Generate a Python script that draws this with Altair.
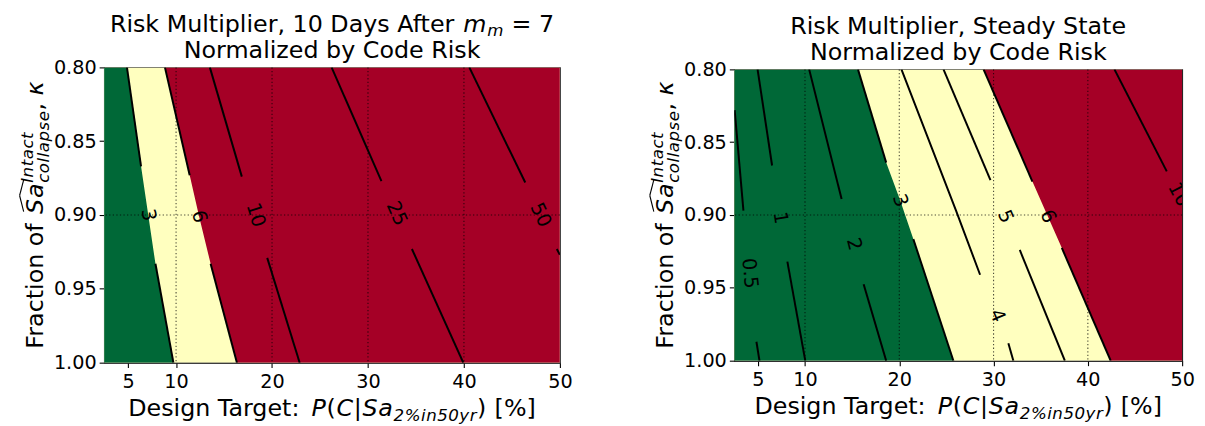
import math
import altair as alt
import pandas as pd

FONT = "DejaVu Sans"

# ---------------- values ----------------
X_DOMAIN = [2.5, 50.0]
Y_DOMAIN = [0.80, 1.00]
X_TICKS = [5, 10, 20, 30, 40, 50]
Y_TICKS = [0.80, 0.85, 0.90, 0.95, 1.00]
GRID_X = [10, 20, 30, 40]
GRID_Y = [0.90]

# Left panel: 10 days after m_m = 7  (upper segment, label point, lower segment)
L_LEVELS = ["3", "6", "10", "25", "50"]
L_UP_X = [[4.88, 6.35], [8.84, 11.42], [13.52, 16.85], [26.21, 31.40], [40.56, 46.39]]
L_UP_Y = [[0.80, 0.867], [0.80, 0.873], [0.80, 0.874], [0.80, 0.877], [0.80, 0.878]]
L_LAB_X = [7.10, 12.40, 18.30, 33.00, 48.00]
L_LAB_Y = [0.900, 0.901, 0.900, 0.899, 0.900]
L_LO_X = [[7.85, 9.72], [13.60, 16.34], [19.50, 22.88], [34.58, 39.93], [49.68, 50.00]]
L_LO_Y = [[0.933, 1.00], [0.933, 1.00], [0.929, 1.00], [0.923, 1.00], [0.923, 0.927]]

# Right panel: steady state
R_LEVELS = ["0.5", "1", "2", "3", "4", "5", "6", "10"]
R_UP_X = [[2.54, 3.47], [4.97, 6.51], [10.44, 13.88], [15.62, 18.61],
          [20.23, 26.02, 28.57], [24.69, 29.67], [28.94, 34.12], [42.82, 48.37]]
R_UP_Y = [[0.828, 0.897], [0.80, 0.866], [0.80, 0.889], [0.80, 0.864],
          [0.80, 0.897, 0.941], [0.80, 0.876], [0.80, 0.877], [0.80, 0.870]]
R_LAB_X = [4.13, 7.39, 15.20, 20.10, 30.40, 31.25, 35.76, 49.64]
R_LAB_Y = [0.940, 0.902, 0.920, 0.890, 0.969, 0.901, 0.901, 0.886]
R_LO_X = [[4.85, 5.17], [8.13, 10.03], [16.22, 18.61], [21.49, 25.74],
          [31.57, 32.10], [32.78, 37.56], [37.24, 42.42], []]
R_LO_Y = [[0.987, 1.00], [0.932, 1.00], [0.9475, 1.00], [0.9165, 1.00],
          [0.988, 1.00], [0.924, 1.00], [0.9226, 1.00], []]

LOW_LEVEL = "3"    # green / yellow boundary
HIGH_LEVEL = "6"   # yellow / red boundary

# ---------------- styles ----------------
GREEN = "#006837"
YELLOW = "#ffffbf"
RED = "#a50026"
TITLE_SIZE = 24
LABEL_SIZE = 24
TICK_SIZE = 19.4
CLABEL_SIZE = 19.4
MATH_TRACK = 0.03   # extra em spacing between mathtext glyphs

LW, LH = 460, 298
RW, RH = 452, 294

W_EM = {
    ' ': .318, '%': .950, '(': .390, ')': .390, ',': .318, '.': .318, ':': .337,
    '=': .838, '[': .390, ']': .390, '|': .337,
    'A': .684, 'C': .698, 'D': .770, 'F': .575, 'I': .295, 'M': .863, 'N': .748,
    'P': .603, 'R': .695, 'S': .635, 'T': .611,
    'a': .613, 'c': .550, 'd': .635, 'e': .615, 'f': .352, 'g': .635, 'i': .278,
    'k': .579, 'l': .278, 'm': .974, 'n': .634, 'o': .612, 'p': .635, 'r': .411,
    's': .521, 't': .392, 'u': .634, 'y': .592, 'z': .525, 'κ': .587,
}
for _d in "0123456789":
    W_EM[_d] = .636


def tw(s, fs):
    return sum(W_EM.get(c, 0.6) for c in s) * fs


def piece_layer(text, x, y, fs, italic, angle=0):
    return alt.Chart(pd.DataFrame({"t": [text]})).mark_text(
        align="left", baseline="alphabetic", font=FONT, fontSize=fs,
        fontStyle="italic" if italic else "normal", color="black", angle=angle,
    ).encode(x=alt.value(x), y=alt.value(y), text="t:N")


def expand(pieces, size):
    """pieces: (text, italic, scale, shift_em, math). Returns glyph runs with advance widths."""
    runs = []
    for t, it, sc, sh, math_ in pieces:
        fs = size * sc
        if math_:
            for c in t:
                runs.append((c, it, fs, sh, tw(c, fs) + MATH_TRACK * fs))
        else:
            runs.append((t, it, fs, sh, tw(t, fs)))
    return runs


def rich_h(pieces, cx, by, size):
    runs = expand(pieces, size)
    total = sum(r[4] for r in runs)
    x = cx - total / 2
    out = []
    for t, it, fs, sh, w in runs:
        lead = tw(t[: len(t) - len(t.lstrip())], fs)
        if t.strip():
            out.append(piece_layer(t.strip(), x + lead, by + sh * size, fs, it))
        x += w
    return out


def y_label(bx, cy):
    """Rotated 270deg label (reads bottom to top); shift>0 moves away from the baseline."""
    size = LABEL_SIZE
    r_head = expand([("Fraction of ", False, 1, 0, False)], size)
    r_nuc = expand([("Sa", True, 1, 0, True)], size)
    r_sup = expand([("Intact", True, 0.7, 0.40, True)], size)
    r_sub = expand([("collapse", True, 0.7, -0.26, True)], size)
    r_tail = expand([(", ", False, 1, 0, False), ("κ", True, 1, 0, False)], size)
    w_head = sum(r[4] for r in r_head)
    w_nuc = sum(r[4] for r in r_nuc)
    w_scr = max(sum(r[4] for r in r_sub), sum(r[4] for r in r_sup))
    w_tail = sum(r[4] for r in r_tail)
    total = w_head + w_nuc + w_scr + w_tail

    out = []

    def place(runs, o):
        for t, it, fs, sh, w in runs:
            lead = tw(t[: len(t) - len(t.lstrip())], fs)
            if t.strip():
                out.append(piece_layer(t.strip(), bx - sh * size,
                                       cy + total / 2 - (o + lead), fs, it, angle=270))
            o += w

    place(r_head, 0)
    place(r_nuc, w_head)
    place(r_sup, w_head + w_nuc)
    place(r_sub, w_head + w_nuc)
    place(r_tail, w_head + w_nuc + w_scr)

    o0 = w_head
    pts = [(o0 + 0.10 * size, 0.80 * size),
           (o0 + w_nuc / 2 + 0.12 * size, 0.97 * size),
           (o0 + w_nuc + 0.12 * size, 0.80 * size)]
    scr = [(bx - h, cy + total / 2 - o) for o, h in pts]
    for a, b in zip(scr[:-1], scr[1:]):
        out.append(
            alt.Chart(pd.DataFrame({"k": [0]})).mark_rule(color="black", strokeWidth=1.1)
            .encode(x=alt.value(a[0]), y=alt.value(a[1]), x2=alt.value(b[0]), y2=alt.value(b[1]))
        )
    return out


def x_label(cx, by):
    return rich_h([("Design Target: ", False, 1, 0, False),
                   ("P", True, 1, 0, True), ("(", False, 1, 0, True),
                   ("C", True, 1, 0, True), ("|", False, 1, 0, True), ("Sa", True, 1, 0, True),
                   ("2%in50yr", True, 0.7, 0.2, True), (")", False, 1, 0, True),
                   (" [%]", False, 1, 0, False)], cx, by, LABEL_SIZE)


def contour_frames(levels, upx, upy, labx, laby, lox, loy, W, H):
    rows, labels = [], []
    for i, lev in enumerate(levels):
        for k, (xs, ys) in enumerate([(upx[i], upy[i]), (lox[i], loy[i])]):
            for j, (x, y) in enumerate(zip(xs, ys)):
                rows.append({"seg": f"{lev}-{k}", "x": x, "y": y, "o": j})
        if lox[i]:
            p0, p1 = (upx[i][-1], upy[i][-1]), (lox[i][0], loy[i][0])
        else:
            p0, p1 = (upx[i][-2], upy[i][-2]), (upx[i][-1], upy[i][-1])
        dxp = (p1[0] - p0[0]) / (X_DOMAIN[1] - X_DOMAIN[0]) * W
        dyp = (p1[1] - p0[1]) / (Y_DOMAIN[1] - Y_DOMAIN[0]) * H
        ang = math.degrees(math.atan2(dyp, dxp)) % 360
        labels.append({"x": labx[i], "y": laby[i], "t": lev, "a": ang})
    return pd.DataFrame(rows), pd.DataFrame(labels)


def boundary(levels, lev, upx, upy, labx, laby, lox, loy):
    i = levels.index(lev)
    xs = upx[i] + [labx[i]] + lox[i]
    ys = upy[i] + [laby[i]] + loy[i]
    return pd.DataFrame({"y": ys, "bx": xs, "xmin": X_DOMAIN[0], "xmax": X_DOMAIN[1]})


def panel(levels, upx, upy, labx, laby, lox, loy, W, H, title_lines):
    xs = alt.Scale(domain=X_DOMAIN, nice=False, zero=False)
    ys = alt.Scale(domain=Y_DOMAIN, reverse=True, nice=False, zero=False)
    x_axis = alt.Axis(values=X_TICKS, format="d", title=None, grid=False,
                      labelFlush=False, labelOverlap=False, labelPadding=5)
    y_axis = alt.Axis(values=Y_TICKS, format=".2f", title=None, grid=False,
                      labelFlush=False, labelOverlap=False, labelPadding=3)

    b_lo = boundary(levels, LOW_LEVEL, upx, upy, labx, laby, lox, loy)
    b_hi = boundary(levels, HIGH_LEVEL, upx, upy, labx, laby, lox, loy)

    yellow = alt.Chart(b_hi).mark_area(orient="horizontal", color=YELLOW, clip=True).encode(
        y=alt.Y("y:Q", scale=ys, axis=y_axis, title=None),
        x=alt.X("xmin:Q", scale=xs, axis=x_axis, title=None, stack=None),
        x2=alt.X2("xmax:Q", title=None),
    )
    red = alt.Chart(b_hi).mark_area(orient="horizontal", color=RED, clip=True).encode(
        y=alt.Y("y:Q", title=None),
        x=alt.X("bx:Q", title=None, stack=None),
        x2=alt.X2("xmax:Q", title=None),
    )
    green = alt.Chart(b_lo).mark_area(orient="horizontal", color=GREEN, clip=True).encode(
        y=alt.Y("y:Q", title=None),
        x=alt.X("xmin:Q", title=None, stack=None),
        x2=alt.X2("bx:Q", title=None),
    )
    gridv = alt.Chart(pd.DataFrame({"gx": GRID_X})).mark_rule(
        color="black", opacity=0.7, strokeDash=[1.3, 2.3], strokeWidth=1.1
    ).encode(x=alt.X("gx:Q", title=None))
    gridh = alt.Chart(pd.DataFrame({"gy": GRID_Y})).mark_rule(
        color="black", opacity=0.7, strokeDash=[1.3, 2.3], strokeWidth=1.1
    ).encode(y=alt.Y("gy:Q", title=None))

    line_df, lab_df = contour_frames(levels, upx, upy, labx, laby, lox, loy, W, H)
    lines = alt.Chart(line_df).mark_line(color="black", strokeWidth=2, clip=True).encode(
        x=alt.X("x:Q", title=None), y=alt.Y("y:Q", title=None),
        detail="seg:N", order="o:Q",
    )
    labels = alt.Chart(lab_df).mark_text(
        font=FONT, fontSize=CLABEL_SIZE, color="black", clip=True,
        align="center", baseline="middle",
    ).encode(
        x=alt.X("x:Q", title=None), y=alt.Y("y:Q", title=None), text="t:N",
        angle=alt.Angle("a:Q", scale=None),
    )

    texts = []
    texts += rich_h(title_lines[0], W / 2, -36, TITLE_SIZE)
    texts += rich_h(title_lines[1], W / 2, -9, TITLE_SIZE)
    texts += x_label(W / 2, H + 54)
    texts += y_label(-62, H / 2)

    return alt.layer(yellow, red, green, gridv, gridh, lines, labels, *texts).properties(
        width=W, height=H
    )


left = panel(
    L_LEVELS, L_UP_X, L_UP_Y, L_LAB_X, L_LAB_Y, L_LO_X, L_LO_Y, LW, LH,
    [[("Risk Multiplier, 10 Days After ", False, 1, 0, False), ("m", True, 1, 0, True),
      ("m", True, 0.7, 0.2, True), (" = 7", False, 1, 0, False)],
     [("Normalized by Code Risk", False, 1, 0, False)]],
)
right = panel(
    R_LEVELS, R_UP_X, R_UP_Y, R_LAB_X, R_LAB_Y, R_LO_X, R_LO_Y, RW, RH,
    [[("Risk Multiplier, Steady State", False, 1, 0, False)],
     [("Normalized by Code Risk", False, 1, 0, False)]],
)

chart = (
    alt.hconcat(left, right, spacing=176, bounds="flush", center=True)
    .properties(padding={"left": 10, "top": 2, "right": 2, "bottom": 2})
    .configure(background="white")
    .configure_view(stroke="#222222", strokeWidth=1.1)
    .configure_axis(
        labelFont=FONT, labelFontSize=TICK_SIZE, labelColor="black",
        tickColor="black", tickSize=5, tickWidth=1.1,
        domainColor="#222222", domainWidth=1.1,
    )
)

chart.save("out.html", embed_options={"renderer": "svg", "actions": False})
